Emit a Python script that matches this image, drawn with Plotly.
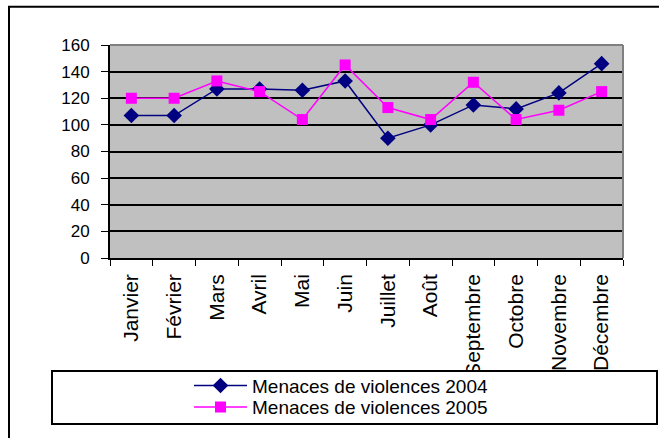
import plotly.graph_objects as go

months = ["Janvier", "Février", "Mars", "Avril", "Mai", "Juin", "Juillet",
          "Août", "Septembre", "Octobre", "Novembre", "Décembre"]
v2004 = [107, 107, 127, 127, 126, 133, 90, 100, 115, 112, 124, 146]
v2005 = [120, 120, 133, 125, 104, 145, 113, 104, 132, 104, 111, 125]
name2004 = "Menaces de violences 2004"
name2005 = "Menaces de violences 2005"
yticks = [0, 20, 40, 60, 80, 100, 120, 140, 160]

W, H = 659, 438
L, R, T, B = 110, 623, 45, 262

def px(x):
    return (x - L) / (R - L)

def py(y):
    return (B - y) / (B - T)

fig = go.Figure()
fig.add_trace(go.Scatter(x=months, y=v2004, name=name2004, mode="lines+markers",
                         line=dict(color="#000080", width=1.5),
                         marker=dict(symbol="diamond", size=12, color="#000080"),
                         legend="legend"))
fig.add_trace(go.Scatter(x=months, y=v2005, name=name2005, mode="lines+markers",
                         line=dict(color="#FF00FF", width=1.5),
                         marker=dict(symbol="square", size=11, color="#FF00FF"),
                         legend="legend2"))

shapes = [
    # outer chart border
    dict(type="rect", xref="paper", yref="paper", x0=px(9), x1=px(680), y0=py(470), y1=py(6),
         line=dict(color="black", width=2), layer="below"),
    # plot area top/right gray border
    dict(type="line", xref="paper", yref="paper", x0=0, x1=1, y0=1, y1=1,
         line=dict(color="#808080", width=2)),
    dict(type="line", xref="paper", yref="paper", x0=1, x1=1, y0=0, y1=1,
         line=dict(color="#808080", width=2)),
    # legend box (covers the bottom of long tick labels)
    dict(type="rect", xref="paper", yref="paper", x0=px(52), x1=px(657), y0=py(431), y1=py(377),
         line=dict(color="black", width=2), fillcolor="white", layer="above"),
]

legfont = dict(size=19, family="Liberation Sans, Arial, sans-serif", color="black")
fig.update_layout(
    width=W, height=H,
    margin=dict(l=L, r=W - R, t=T, b=H - B),
    paper_bgcolor="white",
    plot_bgcolor="#C0C0C0",
    font=dict(family="Liberation Sans, Arial, sans-serif", color="black", size=17),
    showlegend=True,
    legend=dict(x=px(189), y=py(392), xanchor="left", yanchor="middle",
                bgcolor="rgba(0,0,0,0)", font=legfont, itemwidth=53,
                borderwidth=0),
    legend2=dict(x=px(189), y=py(414), xanchor="left", yanchor="middle",
                 bgcolor="rgba(0,0,0,0)", font=legfont, itemwidth=53,
                 borderwidth=0),
    shapes=shapes,
    xaxis=dict(type="category", range=[-0.5, 11.5], tickangle=-90,
               showline=True, linecolor="black", linewidth=1.5,
               ticks="outside", tickson="boundaries", ticklen=6, tickcolor="black",
               showgrid=False, tickfont=dict(size=21), ticklabelstandoff=6),
    yaxis=dict(range=[0, 160], tickvals=yticks, showline=True, linecolor="black",
               linewidth=2, ticks="outside", ticklen=7, tickcolor="black",
               showgrid=True, gridcolor="black", gridwidth=2, zeroline=False,
               tickfont=dict(size=17), ticklabelstandoff=8),
)

fig.write_html("out.html", config={"displayModeBar": False},
               post_script="document.body.style.margin='0';")
